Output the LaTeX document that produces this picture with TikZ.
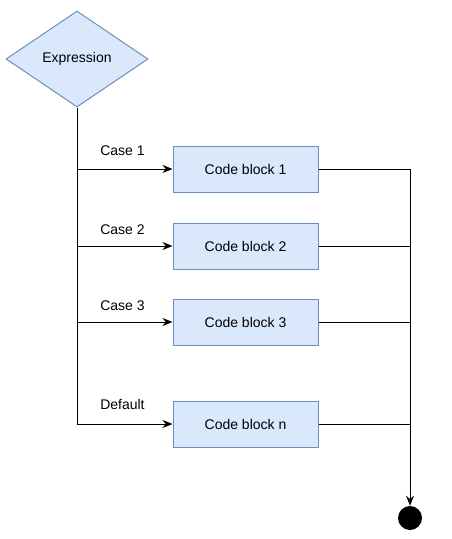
\documentclass[tikz,border=0pt]{standalone}
\usepackage{fontspec}
\setmainfont{Liberation Sans}
\definecolor{boxfill}{HTML}{DAE8FC}
\definecolor{boxline}{HTML}{6C8EBF}
\usetikzlibrary{shapes.geometric, arrows.meta, positioning}

\tikzset{
  codebox/.style={draw=boxline, fill=boxfill, line width=0.75pt, minimum width=108.75pt, minimum height=34.5pt, font=\fontsize{10.5}{12}\selectfont},
  caselabel/.style={anchor=west, inner sep=0pt, font=\fontsize{10.5}{12}\selectfont},
  flow/.style={line width=0.75pt, draw=black},
  flowarrow/.style={flow, -{Stealth[length=7.5pt, width=6pt]}}
}

\begin{document}
\begin{tikzpicture}[x=0.75pt, y=-0.75pt]
  \useasboundingbox (0,0) rectangle (451,539);

  % The decision
  \node[diamond, draw=boxline, fill=boxfill, line width=0.75pt, minimum width=106.5pt, minimum height=72pt, inner sep=0pt, font=\fontsize{10.5}{12}\selectfont] (expr) at (77,59) {Expression};

  % Code blocks
  \node[codebox] (cb1) at (245.5,169) {Code block 1};
  \node[codebox] (cb2) at (245.5,246) {Code block 2};
  \node[codebox] (cb3) at (245.5,322) {Code block 3};
  \node[codebox] (cbn) at (245.5,424) {Code block n};

  % End point
  \node[circle, fill=black, minimum size=18pt, inner sep=0pt] (enddot) at (410,518) {};

  % Case labels
  \node[caselabel] (lbl1) at (100,151) {Case 1};
  \node[caselabel] (lbl2) at (100,230) {Case 2};
  \node[caselabel] (lbl3) at (100,306) {Case 3};
  \node[caselabel] (lbln) at (100,404) {Default};

  % Branches out of the expression
  \draw[flowarrow] (expr.south) |- (cbn.west);
  \draw[flowarrow] (cb1.west -| expr.south) -- (cb1.west);
  \draw[flowarrow] (cb2.west -| expr.south) -- (cb2.west);
  \draw[flowarrow] (cb3.west -| expr.south) -- (cb3.west);

  % Joining back to the end
  \draw[flowarrow] (cb1.east) -| (enddot.north);
  \draw[flow] (cb2.east) -- (cb2.east -| enddot.north);
  \draw[flow] (cb3.east) -- (cb3.east -| enddot.north);
  \draw[flow] (cbn.east) -- (cbn.east -| enddot.north);
\end{tikzpicture}
\end{document}
